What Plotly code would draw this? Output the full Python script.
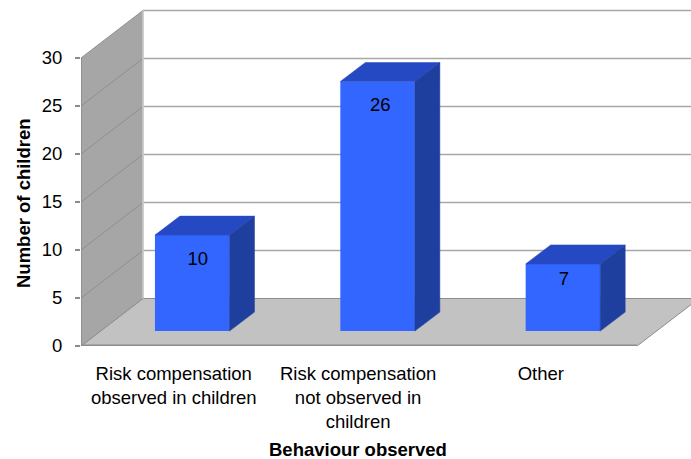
import plotly.graph_objects as go

# Chart data
categories = ["Risk compensation<br>observed in children",
              "Risk compensation<br>not observed in<br>children",
              "Other"]
category_pos = [0, 0.995, 1.981]
children = [10, 26, 7]
label_drop = [2.65, 2.55, 1.7]     # how far each value label sits below the bar's top edge
label_shift = [0.03, 0.015, 0.005]
y_ticks = [0, 5, 10, 15, 20, 25, 30]

# Oblique projection: how far one step into the chart moves in axis units
WALL_DX, WALL_DY = 0.3345, 4.95
BAR_X, BAR_BASE = 0.10, 1.55
BAR_WIDTH = 0.402
BAR_DX, BAR_DY = 0.135, 1.98
X_MIN, X_FRONT_MAX, X_MAX = -0.5, 2.5, 2.791
Y_TOP, Y_MAX = 30, 36.04

BLUE_FRONT, BLUE_TOP, BLUE_SIDE = "#3366ff", "#2449c2", "#1f3f9f"
WALL, WALL_LINE, GRID, FLOOR, LIP = "#a6a6a6", "#8f8f8f", "#a8a8a8", "#c2c2c2", "#8c8c8c"
FONT = "Liberation Sans, Arial, sans-serif"
TEXT_SIZE = 18.5


def polygon(points, fill, line=None, width=1):
    path = "M " + " L ".join(f"{x},{y}" for x, y in points) + " Z"
    return dict(type="path", path=path, xref="x", yref="y", layer="below",
                fillcolor=fill, line=dict(color=line or fill, width=width))


def segment(x0, y0, x1, y1, color, width):
    return dict(type="line", x0=x0, y0=y0, x1=x1, y1=y1, xref="x", yref="y",
                layer="below", line=dict(color=color, width=width))


back_left = X_MIN + WALL_DX
shapes = [
    polygon([(X_MIN, 0), (X_FRONT_MAX, 0), (X_FRONT_MAX + WALL_DX, WALL_DY), (back_left, WALL_DY)],
            FLOOR, LIP, 1),
    polygon([(X_MIN, 0), (back_left, WALL_DY), (back_left, Y_TOP + WALL_DY), (X_MIN, Y_TOP)],
            WALL, WALL_LINE, 1),
]
for t in y_ticks[1:]:
    shapes.append(segment(back_left, t + WALL_DY, X_MAX, t + WALL_DY, GRID, 1.5))
    if t < Y_TOP:
        shapes.append(segment(X_MIN, t, back_left, t + WALL_DY, WALL_LINE, 1))
shapes.append(segment(back_left, WALL_DY, back_left, Y_TOP + WALL_DY, "#d0d0d0", 1.5))
shapes.append(segment(X_MIN, 0, X_MIN, Y_TOP, LIP, 1.5))

fig = go.Figure()

# Front faces of the columns
fig.add_trace(go.Bar(
    x=[i + BAR_X for i in range(len(children))],
    y=children,
    base=BAR_BASE,
    width=BAR_WIDTH,
    marker=dict(color=BLUE_FRONT, line=dict(width=0)),
    hoverinfo="skip",
    showlegend=False,
))

# Top and side faces follow the same values, pushed back by the projection
for i, v in enumerate(children):
    left = i + BAR_X - BAR_WIDTH / 2
    right = i + BAR_X + BAR_WIDTH / 2
    bottom, top = BAR_BASE, BAR_BASE + v
    fig.add_trace(go.Scatter(
        x=[left, right, right + BAR_DX, left + BAR_DX, left],
        y=[top, top, top + BAR_DY, top + BAR_DY, top],
        mode="lines", fill="toself", fillcolor=BLUE_TOP,
        line=dict(color=BLUE_TOP, width=0.5),
        hoverinfo="skip", showlegend=False,
    ))
    fig.add_trace(go.Scatter(
        x=[right, right + BAR_DX, right + BAR_DX, right, right],
        y=[bottom, bottom + BAR_DY, top + BAR_DY, top, bottom],
        mode="lines", fill="toself", fillcolor=BLUE_SIDE,
        line=dict(color=BLUE_SIDE, width=0.5),
        hoverinfo="skip", showlegend=False,
    ))

# Thick front edge of the floor, running over the plot boundary
fig.add_trace(go.Scatter(
    x=[X_MIN, X_FRONT_MAX], y=[0, 0], mode="lines",
    line=dict(color=LIP, width=3), cliponaxis=False,
    hoverinfo="skip", showlegend=False,
))

# Value labels on the front faces
fig.add_trace(go.Scatter(
    x=[i + BAR_X + s for i, s in enumerate(label_shift)],
    y=[BAR_BASE + v - d for v, d in zip(children, label_drop)],
    mode="text",
    text=[str(v) for v in children],
    textposition="middle center",
    textfont=dict(family=FONT, size=TEXT_SIZE, color="#000000"),
    hoverinfo="skip", showlegend=False,
))

fig.update_layout(
    width=691, height=459, autosize=False,
    margin=dict(l=81, r=0, t=0, b=113),
    paper_bgcolor="#ffffff", plot_bgcolor="#ffffff",
    shapes=shapes,
    font=dict(family=FONT, size=TEXT_SIZE, color="#000000"),
    xaxis=dict(
        range=[X_MIN, X_MAX], tickvals=category_pos, ticktext=categories,
        showgrid=False, zeroline=False, showline=False, ticks="", ticklabelstandoff=14,
        tickfont=dict(size=TEXT_SIZE), tickangle=0,
    ),
    yaxis=dict(
        range=[0, Y_MAX], tickvals=y_ticks,
        showgrid=False, zeroline=False, showline=False,
        ticks="outside", ticklen=5, tickcolor=LIP, tickwidth=1.5, ticklabelstandoff=9,
        tickfont=dict(size=TEXT_SIZE),
    ),
    annotations=[
        dict(text="<b>Behaviour observed</b>", xref="paper", yref="paper",
             x=(358 - 81) / 610, y=(346 - 449) / 346, xanchor="center", yanchor="middle",
             showarrow=False, font=dict(size=TEXT_SIZE)),
        dict(text="<b>Number of children</b>", xref="paper", yref="paper",
             x=(23 - 81) / 610, y=(346 - 203) / 346, xanchor="center", yanchor="middle",
             textangle=-90, showarrow=False, font=dict(size=TEXT_SIZE)),
    ],
)

fig.write_html("out.html")
